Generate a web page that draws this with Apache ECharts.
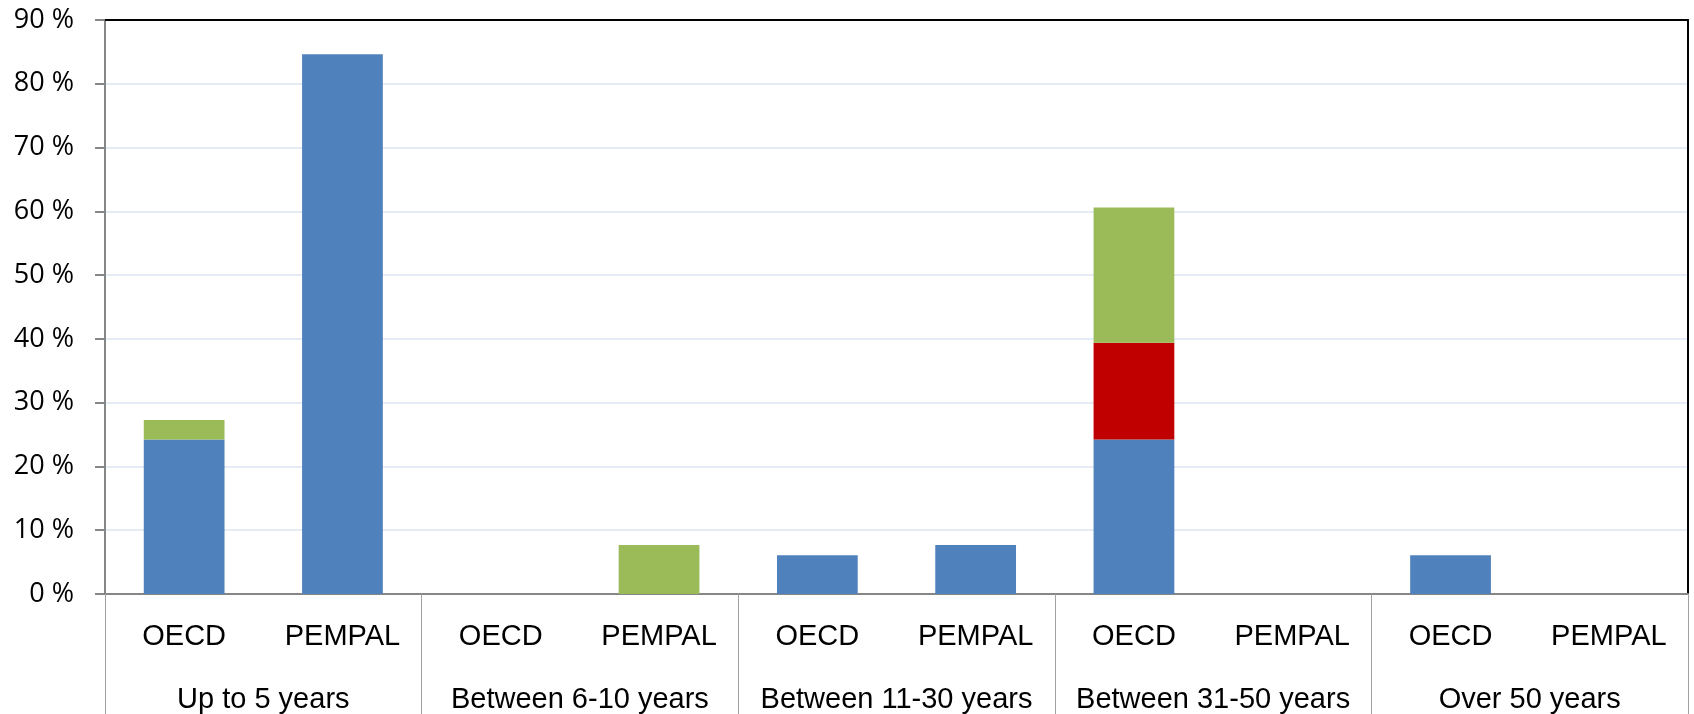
<!DOCTYPE html>
<html>
<head>
<meta charset="utf-8">
<script src="https://cdn.jsdelivr.net/npm/echarts@6/dist/echarts.min.js"></script>
<style>
html,body{margin:0;padding:0;background:#fff;}
#chart{width:1694px;height:714px;}
</style>
</head>
<body>
<div id="chart"></div>
<script>
const subCategories = ['OECD','PEMPAL','OECD','PEMPAL','OECD','PEMPAL','OECD','PEMPAL','OECD','PEMPAL'];
const groupCategories = ['Up to 5 years','Between 6-10 years','Between 11-30 years','Between 31-50 years','Over 50 years'];
const blueValues  = [24.24, 84.62, 0, 0, 6.06, 7.69, 24.24, 0, 6.06, 0];
const redValues   = [0, 0, 0, 0, 0, 0, 15.15, 0, 0, 0];
const greenValues = [3.03, 0, 0, 7.69, 0, 0, 21.21, 0, 0, 0];
const yTicks = [0,10,20,30,40,50,60,70,80,90];

const catFont = '"Liberation Sans", sans-serif';
const chart = echarts.init(document.getElementById('chart'), null, {renderer:'canvas'});
chart.setOption({
  animation:false,
  grid:{left:105,right:6,top:20,bottom:120,show:false},
  xAxis:[{
    type:'category', data:subCategories, position:'bottom',
    axisLine:{show:true,lineStyle:{color:'#868686',width:2}},
    axisTick:{show:false},
    axisLabel:{interval:0,margin:28,color:'#000',fontSize:29,fontFamily:catFont},
    splitLine:{show:false}
  },{
    type:'category', data:groupCategories, position:'bottom',
    axisLine:{show:false},
    axisTick:{show:true,length:120,lineStyle:{color:'#A0A0A0',width:1}},
    axisLabel:{interval:0,margin:91,color:'#000',fontSize:29,fontFamily:catFont},
    splitLine:{show:false}
  },{
    type:'category', data:subCategories, position:'top',
    axisLine:{show:true,lineStyle:{color:'#000',width:2}},
    axisTick:{show:false}, axisLabel:{show:false}, splitLine:{show:false}
  }],
  yAxis:[{
    type:'value', min:yTicks[0], max:yTicks[yTicks.length-1], interval:10,
    axisLine:{show:true,lineStyle:{color:'#868686',width:2}},
    axisTick:{show:true,length:10,lineStyle:{color:'#868686',width:2}},
    axisLabel:{formatter:'{value} %',margin:31,color:'#000',fontSize:27,fontFamily:'"Open Sans", sans-serif'},
    splitLine:{show:true,lineStyle:{color:'#DCE6F2',width:1.5}}
  },{
    type:'value', position:'right', min:yTicks[0], max:yTicks[yTicks.length-1], interval:10,
    axisLine:{show:true,lineStyle:{color:'#000',width:2}},
    axisTick:{show:false}, axisLabel:{show:false}, splitLine:{show:false}
  }],
  series:[
    {name:'blue',type:'bar',stack:'s',data:blueValues,barWidth:'51%',itemStyle:{color:'#4F81BD'}},
    {name:'red',type:'bar',stack:'s',data:redValues,itemStyle:{color:'#C00000'}},
    {name:'green',type:'bar',stack:'s',data:greenValues,itemStyle:{color:'#9BBB59'}}
  ]
});
</script>
</body>
</html>
